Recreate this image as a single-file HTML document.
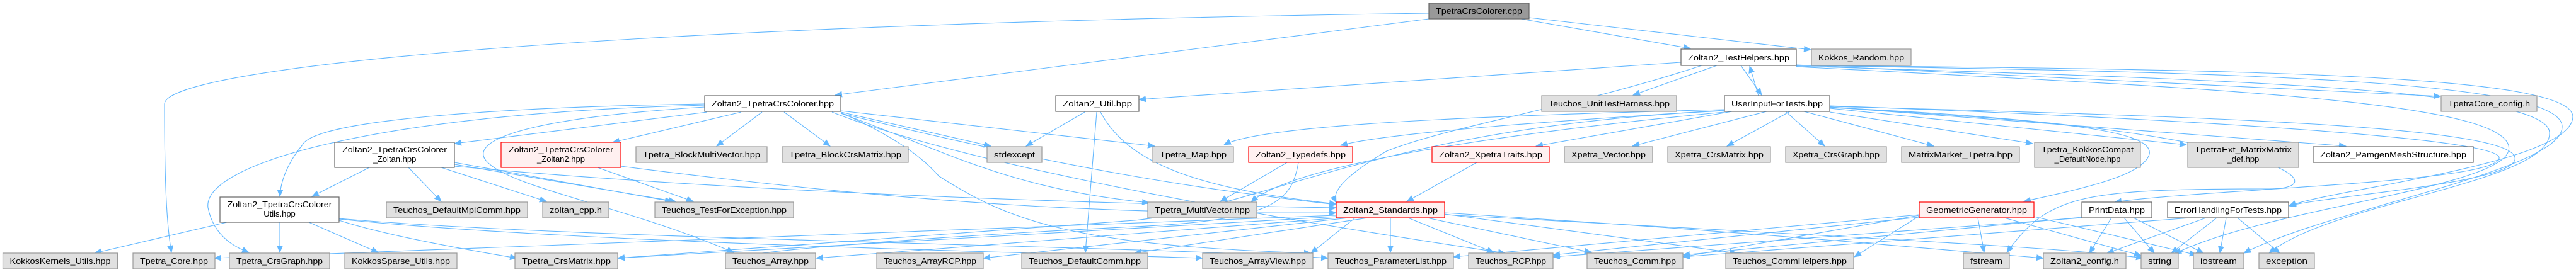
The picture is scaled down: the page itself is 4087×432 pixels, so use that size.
<!DOCTYPE html>
<html><head><meta charset="utf-8"><style>
html,body{margin:0;padding:0;background:#fff;}
svg{display:block;}
text{font-family:"Liberation Sans",sans-serif;font-size:13px;fill:#000;}
.w{fill:#fff;stroke:#666;stroke-width:1.2}
.g{fill:#e0e0e0;stroke:#999;stroke-width:1.2}
.r{fill:#fff0f0;stroke:#f00;stroke-width:1.2}
.k{fill:#999;stroke:#666;stroke-width:1.2}
.e path{fill:none;stroke:#63b8ff;stroke-width:1.1;marker-end:url(#a)}
</style></head><body>
<svg width="4087" height="432" viewBox="0 0 4087 432" xmlns="http://www.w3.org/2000/svg">
<defs><marker id="a" markerWidth="12" markerHeight="10" refX="11" refY="5" orient="auto" markerUnits="userSpaceOnUse"><path d="M0,0 L12,5 L0,10 z" fill="#63b8ff"/></marker></defs>
<g class="e">
<!-- root -->
<path d="M2267,30 L1325,151"/>
<path d="M2267,21 C900,40 262,110 261,165 C261,300 265,360 272,401"/>
<path d="M2413,30 L2682,77"/>
<path d="M2426,28 L2873,79"/>
<!-- TestHelpers -->
<path d="M2667,99 L1807,158"/>
<path d="M2724,104 L2591,151"/>
<path d="M2762,104 L2795,151"/>
<path d="M2850,103 L3872,153"/>
<path d="M2700,104 C2500,170 2300,200 2200,240 C2150,270 2110,300 2120,322"/>
<path d="M2850,104 C3600,110 4080,120 4082,185 C4082,260 3700,300 3632,327"/>
<path d="M2850,104 C3600,115 4060,130 4065,200 C4070,270 3700,330 3560,402"/>
<path d="M2850,105 C3500,125 4040,140 4045,210 C4050,290 3700,320 3600,402"/>
<path d="M2850,106 C3500,140 4000,160 3980,240 C3960,300 3600,330 3450,403"/>
<!-- UserInput -->
<path d="M2790,152 L2776,105"/>
<path d="M2803,177 L2590,232"/>
<path d="M2840,177 L2740,232"/>
<path d="M2833,177 L2895,232"/>
<path d="M2862,177 L3068,232"/>
<path d="M2903,178 L3225,228"/>
<path d="M2903,172 L3469,230"/>
<path d="M2903,170 L3722,232"/>
<path d="M2748,177 L2437,232"/>
<path d="M2736,175 C2500,190 2200,210 2127,231"/>
<path d="M2736,174 C2300,185 2000,200 1942,230"/>
<path d="M2736,178 C2400,210 2050,260 1985,321"/>
<path d="M2903,170 C3200,190 3420,200 3410,245 C3400,280 3300,300 3211,320"/>
<path d="M2903,168 C3500,190 3960,220 3965,250 C3970,290 3500,300 3355,321"/>
<path d="M2903,169 C3500,185 3980,200 3990,250 C4000,290 3700,310 3631,327"/>
<path d="M2903,171 C3600,200 3720,300 3600,300 C3300,300 3250,310 3184,401"/>
<path d="M2736,176 C2200,200 2000,330 1800,350 C1400,380 1100,400 980,410"/>
<!-- Colorer -->
<path d="M1122,178 L721,228"/>
<path d="M1176,178 L972,226"/>
<path d="M1209,178 L1137,232"/>
<path d="M1244,178 L1317,232"/>
<path d="M1118,165 C800,170 500,190 480,230 C455,260 445,290 444,312"/>
<path d="M1118,167 C600,180 320,260 330,330 C340,380 380,395 395,401"/>
<path d="M1118,170 C800,190 740,230 776,260 C820,300 1000,330 1164,401"/>
<path d="M1334,178 L1572,232"/>
<path d="M1334,176 L1832,232"/>
<path d="M1334,180 C1500,240 1600,300 1823,322"/>
<path d="M1334,180 C1700,270 1900,300 2120,325"/>
<path d="M1320,178 C1500,250 1900,330 2388,402"/>
<path d="M1334,179 C1450,230 1480,270 1490,280 C1600,350 1700,390 2080,402"/>
<!-- ColorerZoltan -->
<path d="M586,266 L495,312"/>
<path d="M648,266 L700,320"/>
<path d="M700,266 L867,320"/>
<path d="M721,258 L1066,320"/>
<path d="M721,261 L1072,320"/>
<path d="M721,264 C1000,290 1500,320 2120,330"/>
<!-- ColorerZoltan2 -->
<path d="M948,266 L1100,320"/>
<path d="M985,264 C1500,330 1800,340 2120,338"/>
<!-- ColorerUtils -->
<path d="M360,353 L150,402"/>
<path d="M444,353 L444,401"/>
<path d="M490,353 L600,401"/>
<path d="M538,350 C600,370 700,390 820,410"/>
<path d="M538,347 C900,380 1800,390 2107,410"/>
<path d="M538,348 C900,385 1600,400 1908,410"/>
<!-- Util -->
<path d="M1721,178 L1628,232"/>
<path d="M1740,178 L1722,401"/>
<path d="M1746,178 C1790,260 1900,300 2120,324"/>
<!-- Typedefs -->
<path d="M2042,258 L1936,320"/>
<path d="M2060,258 C2050,320 2020,350 1800,360 C1400,380 1200,400 1160,410"/>
<!-- XpetraTraits -->
<path d="M2343,258 L2232,320"/>
<!-- Standards -->
<path d="M2206,346 L2206,401"/>
<path d="M2234,346 L2370,401"/>
<path d="M2264,346 L2525,401"/>
<path d="M2292,340 L2755,402"/>
<path d="M2292,338 C2800,370 3000,390 3242,410"/>
<path d="M2292,341 C3000,380 3300,395 3400,410"/>
<path d="M2150,346 L2080,402"/>
<path d="M2140,346 L1560,410"/>
<path d="M2125,346 L1295,410"/>
<path d="M2170,346 L1800,402"/>
<path d="M2120,344 L980,410"/>
<path d="M2120,342 L340,410"/>
<!-- GeometricGenerator -->
<path d="M3138,346 L3148,401"/>
<path d="M3180,346 L3397,406"/>
<path d="M3227,344 L3485,405"/>
<path d="M3045,343 L2942,408"/>
<path d="M3045,342 L2670,408"/>
<path d="M3045,345 L2464,405"/>
<path d="M3045,341 L2306,408"/>
<!-- PrintData -->
<path d="M3350,346 L3315,402"/>
<path d="M3370,346 L3418,402"/>
<path d="M3385,346 L3496,402"/>
<path d="M3303,345 L2670,405"/>
<path d="M3303,346 L2464,408"/>
<!-- ErrorHandling -->
<path d="M3550,346 L3617,402"/>
<path d="M3532,346 L3522,402"/>
<path d="M3517,346 L3445,402"/>
<path d="M3500,346 L3343,402"/>
<path d="M3475,346 L2670,408"/>
</g>

<!-- nodes -->
<rect class="k" x="2267" y="5" width="159" height="25"/><text x="2346.5" y="22" text-anchor="middle" textLength="137" lengthAdjust="spacingAndGlyphs">TpetraCrsColorer.cpp</text>
<rect class="w" x="1118" y="152" width="216" height="25"/><text x="1226" y="169" text-anchor="middle" textLength="194" lengthAdjust="spacingAndGlyphs">Zoltan2_TpetraCrsColorer.hpp</text>
<rect class="w" x="2667" y="78" width="183" height="26"/><text x="2758.5" y="96" text-anchor="middle" textLength="161" lengthAdjust="spacingAndGlyphs">Zoltan2_TestHelpers.hpp</text>
<rect class="g" x="2874" y="78" width="158" height="26"/><text x="2953" y="96" text-anchor="middle" textLength="136" lengthAdjust="spacingAndGlyphs">Kokkos_Random.hpp</text>
<rect class="w" x="1675" y="152" width="132" height="25"/><text x="1741" y="169" text-anchor="middle" textLength="110" lengthAdjust="spacingAndGlyphs">Zoltan2_Util.hpp</text>
<rect class="g" x="2446" y="152" width="214" height="25"/><text x="2553" y="169" text-anchor="middle" textLength="192" lengthAdjust="spacingAndGlyphs">Teuchos_UnitTestHarness.hpp</text>
<rect class="w" x="2736" y="152" width="167" height="25"/><text x="2819.5" y="169" text-anchor="middle" textLength="145" lengthAdjust="spacingAndGlyphs">UserInputForTests.hpp</text>
<rect class="g" x="3873" y="152" width="152" height="25"/><text x="3949" y="169" text-anchor="middle" textLength="130" lengthAdjust="spacingAndGlyphs">TpetraCore_config.h</text>

<rect class="w" x="531" y="226" width="190" height="40"/><text x="626" y="242" text-anchor="middle" textLength="166" lengthAdjust="spacingAndGlyphs">Zoltan2_TpetraCrsColorer</text><text x="626" y="257" text-anchor="middle">_Zoltan.hpp</text>
<rect class="r" x="795" y="226" width="190" height="40"/><text x="890" y="242" text-anchor="middle" textLength="166" lengthAdjust="spacingAndGlyphs">Zoltan2_TpetraCrsColorer</text><text x="890" y="257" text-anchor="middle">_Zoltan2.hpp</text>
<rect class="g" x="1009" y="233" width="208" height="25"/><text x="1113" y="250" text-anchor="middle" textLength="186" lengthAdjust="spacingAndGlyphs">Tpetra_BlockMultiVector.hpp</text>
<rect class="g" x="1241" y="233" width="200" height="25"/><text x="1341" y="250" text-anchor="middle" textLength="178" lengthAdjust="spacingAndGlyphs">Tpetra_BlockCrsMatrix.hpp</text>
<rect class="g" x="1566" y="233" width="87" height="25"/><text x="1609.5" y="250" text-anchor="middle" textLength="65" lengthAdjust="spacingAndGlyphs">stdexcept</text>
<rect class="g" x="1829" y="233" width="128" height="25"/><text x="1893" y="250" text-anchor="middle" textLength="106" lengthAdjust="spacingAndGlyphs">Tpetra_Map.hpp</text>
<rect class="r" x="1981" y="233" width="165" height="25"/><text x="2063.5" y="250" text-anchor="middle" textLength="143" lengthAdjust="spacingAndGlyphs">Zoltan2_Typedefs.hpp</text>
<rect class="r" x="2272" y="233" width="186" height="25"/><text x="2365" y="250" text-anchor="middle" textLength="164" lengthAdjust="spacingAndGlyphs">Zoltan2_XpetraTraits.hpp</text>
<rect class="g" x="2482" y="233" width="140" height="25"/><text x="2552" y="250" text-anchor="middle" textLength="118" lengthAdjust="spacingAndGlyphs">Xpetra_Vector.hpp</text>
<rect class="g" x="2646" y="233" width="163" height="25"/><text x="2727.5" y="250" text-anchor="middle" textLength="141" lengthAdjust="spacingAndGlyphs">Xpetra_CrsMatrix.hpp</text>
<rect class="g" x="2833" y="233" width="160" height="25"/><text x="2913" y="250" text-anchor="middle" textLength="138" lengthAdjust="spacingAndGlyphs">Xpetra_CrsGraph.hpp</text>
<rect class="g" x="3017" y="233" width="187" height="25"/><text x="3110.5" y="250" text-anchor="middle" textLength="165" lengthAdjust="spacingAndGlyphs">MatrixMarket_Tpetra.hpp</text>
<rect class="g" x="3228" y="226" width="168" height="40"/><text x="3312" y="242" text-anchor="middle" textLength="146" lengthAdjust="spacingAndGlyphs">Tpetra_KokkosCompat</text><text x="3312" y="257" text-anchor="middle">_DefaultNode.hpp</text>
<rect class="g" x="3471" y="226" width="176" height="40"/><text x="3559" y="242" text-anchor="middle" textLength="154" lengthAdjust="spacingAndGlyphs">TpetraExt_MatrixMatrix</text><text x="3559" y="257" text-anchor="middle">_def.hpp</text>
<rect class="w" x="3670" y="233" width="254" height="25"/><text x="3797" y="250" text-anchor="middle" textLength="232" lengthAdjust="spacingAndGlyphs">Zoltan2_PamgenMeshStructure.hpp</text>

<rect class="w" x="349" y="313" width="189" height="40"/><text x="443.5" y="329" text-anchor="middle" textLength="166" lengthAdjust="spacingAndGlyphs">Zoltan2_TpetraCrsColorer</text><text x="443.5" y="344" text-anchor="middle">Utils.hpp</text>
<rect class="g" x="613" y="321" width="224" height="25"/><text x="725" y="338" text-anchor="middle" textLength="202" lengthAdjust="spacingAndGlyphs">Teuchos_DefaultMpiComm.hpp</text>
<rect class="g" x="861" y="321" width="105" height="25"/><text x="913.5" y="338" text-anchor="middle" textLength="83" lengthAdjust="spacingAndGlyphs">zoltan_cpp.h</text>
<rect class="g" x="1039" y="321" width="220" height="25"/><text x="1149" y="338" text-anchor="middle" textLength="198" lengthAdjust="spacingAndGlyphs">Teuchos_TestForException.hpp</text>
<rect class="g" x="1821" y="321" width="173" height="25"/><text x="1907.5" y="338" text-anchor="middle" textLength="151" lengthAdjust="spacingAndGlyphs">Tpetra_MultiVector.hpp</text>
<rect class="r" x="2120" y="321" width="172" height="25"/><text x="2206" y="338" text-anchor="middle" textLength="150" lengthAdjust="spacingAndGlyphs">Zoltan2_Standards.hpp</text>
<rect class="r" x="3045" y="321" width="182" height="25"/><text x="3136" y="338" text-anchor="middle" textLength="160" lengthAdjust="spacingAndGlyphs">GeometricGenerator.hpp</text>
<rect class="w" x="3303" y="321" width="111" height="25"/><text x="3358.5" y="338" text-anchor="middle" textLength="89" lengthAdjust="spacingAndGlyphs">PrintData.hpp</text>
<rect class="w" x="3439" y="321" width="192" height="25"/><text x="3535" y="338" text-anchor="middle" textLength="170" lengthAdjust="spacingAndGlyphs">ErrorHandlingForTests.hpp</text>

<rect class="g" x="4.5" y="402" width="182" height="25"/><text x="95.5" y="419" text-anchor="middle" textLength="160" lengthAdjust="spacingAndGlyphs">KokkosKernels_Utils.hpp</text>
<rect class="g" x="211" y="402" width="130" height="25"/><text x="276" y="419" text-anchor="middle" textLength="108" lengthAdjust="spacingAndGlyphs">Tpetra_Core.hpp</text>
<rect class="g" x="364" y="402" width="159" height="25"/><text x="443.5" y="419" text-anchor="middle" textLength="137" lengthAdjust="spacingAndGlyphs">Tpetra_CrsGraph.hpp</text>
<rect class="g" x="547" y="402" width="178" height="25"/><text x="636" y="419" text-anchor="middle" textLength="156" lengthAdjust="spacingAndGlyphs">KokkosSparse_Utils.hpp</text>
<rect class="g" x="817" y="402" width="163" height="25"/><text x="898.5" y="419" text-anchor="middle" textLength="141" lengthAdjust="spacingAndGlyphs">Tpetra_CrsMatrix.hpp</text>
<rect class="g" x="1151" y="402" width="143" height="25"/><text x="1222.5" y="419" text-anchor="middle" textLength="121" lengthAdjust="spacingAndGlyphs">Teuchos_Array.hpp</text>
<rect class="g" x="1391" y="402" width="169" height="25"/><text x="1475.5" y="419" text-anchor="middle" textLength="147" lengthAdjust="spacingAndGlyphs">Teuchos_ArrayRCP.hpp</text>
<rect class="g" x="1621" y="402" width="200" height="25"/><text x="1721" y="419" text-anchor="middle" textLength="178" lengthAdjust="spacingAndGlyphs">Teuchos_DefaultComm.hpp</text>
<rect class="g" x="1908" y="402" width="175" height="25"/><text x="1995.5" y="419" text-anchor="middle" textLength="153" lengthAdjust="spacingAndGlyphs">Teuchos_ArrayView.hpp</text>
<rect class="g" x="2107" y="402" width="199" height="25"/><text x="2206.5" y="419" text-anchor="middle" textLength="177" lengthAdjust="spacingAndGlyphs">Teuchos_ParameterList.hpp</text>
<rect class="g" x="2330" y="402" width="134" height="25"/><text x="2397" y="419" text-anchor="middle" textLength="112" lengthAdjust="spacingAndGlyphs">Teuchos_RCP.hpp</text>
<rect class="g" x="2518" y="402" width="152" height="25"/><text x="2594" y="419" text-anchor="middle" textLength="130" lengthAdjust="spacingAndGlyphs">Teuchos_Comm.hpp</text>
<rect class="g" x="2738" y="402" width="203" height="25"/><text x="2839.5" y="419" text-anchor="middle" textLength="181" lengthAdjust="spacingAndGlyphs">Teuchos_CommHelpers.hpp</text>
<rect class="g" x="3115" y="402" width="73" height="25"/><text x="3151.5" y="419" text-anchor="middle" textLength="51" lengthAdjust="spacingAndGlyphs">fstream</text>
<rect class="g" x="3242" y="402" width="131" height="25"/><text x="3307.5" y="419" text-anchor="middle" textLength="109" lengthAdjust="spacingAndGlyphs">Zoltan2_config.h</text>
<rect class="g" x="3397" y="402" width="59" height="25"/><text x="3426.5" y="419" text-anchor="middle" textLength="37" lengthAdjust="spacingAndGlyphs">string</text>
<rect class="g" x="3480" y="402" width="80" height="25"/><text x="3520" y="419" text-anchor="middle" textLength="58" lengthAdjust="spacingAndGlyphs">iostream</text>
<rect class="g" x="3584" y="402" width="88" height="25"/><text x="3628" y="419" text-anchor="middle" textLength="66" lengthAdjust="spacingAndGlyphs">exception</text>
</svg>
</body></html>
